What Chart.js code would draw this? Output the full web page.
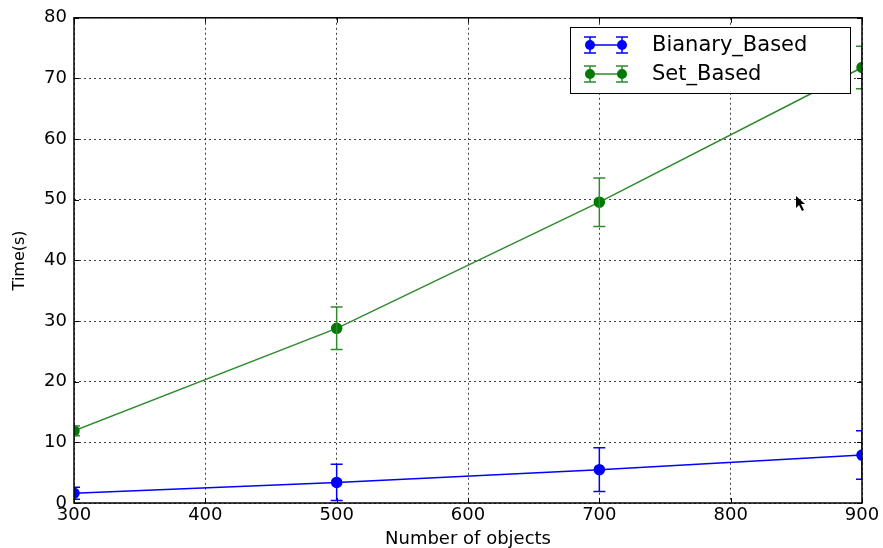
<!DOCTYPE html>
<html>
<head>
<meta charset="utf-8">
<script src="https://cdn.jsdelivr.net/npm/chart.js@4"></script>
<style>
    html, body { margin: 0; padding: 0; background: #fff; }
    #wrap { width: 883px; height: 548px; }
</style>
</head>
<body>
<div id="wrap"><canvas id="chart" width="883" height="548"></canvas></div>
<script>
// values
const objectCounts = [300, 500, 700, 900];
const binaryTimes = [1.6, 3.4, 5.5, 7.9];
const binaryErrors = [1.0, 3.0, 3.6, 4.0];
const setTimes = [11.9, 28.8, 49.6, 71.8];
const setErrors = [0.8, 3.5, 4.0, 3.5];
const xTicks = [300, 400, 500, 600, 700, 800, 900];
const yTicks = [0, 10, 20, 30, 40, 50, 60, 70, 80];

const FONT = "'DejaVu Sans', sans-serif";

function points(xs, ys) {
    return xs.map((x, i) => ({ x: x, y: ys[i] }));
}

// error bars, frame, inner ticks and legend (matplotlib look)
const mplLook = {
    id: "mplLook",
    afterDatasetsDraw(chart) {
        const ctx = chart.ctx;
        const area = chart.chartArea;
        const xs = chart.scales.x, ys = chart.scales.y;

        ctx.save();
        ctx.beginPath();
        ctx.rect(area.left, area.top, area.right - area.left, area.bottom - area.top);
        ctx.clip();
        chart.data.datasets.forEach(ds => {
            ctx.strokeStyle = ds.borderColor;
            ctx.lineWidth = 1.5;
            ds.data.forEach((p, i) => {
                const px = xs.getPixelForValue(p.x);
                const top = ys.getPixelForValue(p.y + ds.errors[i]);
                const bot = ys.getPixelForValue(p.y - ds.errors[i]);
                ctx.beginPath();
                ctx.moveTo(px, top); ctx.lineTo(px, bot);
                ctx.moveTo(px - 6, top); ctx.lineTo(px + 6, top);
                ctx.moveTo(px - 6, bot); ctx.lineTo(px + 6, bot);
                ctx.stroke();
            });
        });
        ctx.restore();

        // frame
        ctx.save();
        ctx.strokeStyle = "#000";
        ctx.lineWidth = 1.5;
        ctx.strokeRect(area.left, area.top, area.right - area.left, area.bottom - area.top);
        ctx.lineWidth = 1;
        ctx.beginPath();
        xTicks.forEach(v => {
            const px = Math.round(xs.getPixelForValue(v)) + 0.5;
            ctx.moveTo(px, area.bottom); ctx.lineTo(px, area.bottom - 5);
            ctx.moveTo(px, area.top); ctx.lineTo(px, area.top + 5);
        });
        yTicks.forEach(v => {
            const py = Math.round(ys.getPixelForValue(v)) + 0.5;
            ctx.moveTo(area.left, py); ctx.lineTo(area.left + 5, py);
            ctx.moveTo(area.right, py); ctx.lineTo(area.right - 5, py);
        });
        ctx.stroke();
        ctx.restore();

        // legend
        ctx.save();
        ctx.fillStyle = "#fff";
        ctx.fillRect(570, 27, 280, 66);
        ctx.strokeStyle = "#000";
        ctx.lineWidth = 1;
        ctx.strokeRect(570.5, 27.5, 280, 66);
        ctx.font = "21px " + FONT;
        ctx.textBaseline = "middle";
        chart.data.datasets.forEach((ds, i) => {
            const y = 45 + i * 29;
            ctx.strokeStyle = ds.borderColor;
            ctx.lineWidth = 1.5;
            ctx.beginPath();
            ctx.moveTo(590, y); ctx.lineTo(622, y);
            [590, 622].forEach(mx => {
                ctx.moveTo(mx, y - 8); ctx.lineTo(mx, y + 8);
                ctx.moveTo(mx - 6, y - 8); ctx.lineTo(mx + 6, y - 8);
                ctx.moveTo(mx - 6, y + 8); ctx.lineTo(mx + 6, y + 8);
            });
            ctx.stroke();
            ctx.fillStyle = ds.pointBackgroundColor;
            [590, 622].forEach(mx => {
                ctx.beginPath();
                ctx.arc(mx, y, 5, 0, Math.PI * 2);
                ctx.fill();
            });
            ctx.fillStyle = "#000";
            ctx.fillText(ds.label, 652, y + 1);
        });
        ctx.restore();

        // mouse pointer left in the screenshot
        ctx.save();
        ctx.fillStyle = "#000";
        ctx.beginPath();
        ctx.moveTo(796, 196);
        ctx.lineTo(796, 208);
        ctx.lineTo(799, 205);
        ctx.lineTo(802, 211);
        ctx.lineTo(804, 210);
        ctx.lineTo(801, 204);
        ctx.lineTo(805, 204);
        ctx.closePath();
        ctx.fill();
        ctx.restore();
    }
};

new Chart(document.getElementById("chart").getContext("2d"), {
    type: "line",
    data: {
        datasets: [{
            label: "Bianary_Based",
            data: points(objectCounts, binaryTimes),
            errors: binaryErrors,
            borderColor: "#0000ff",
            backgroundColor: "#0000ff",
            pointBackgroundColor: "#0000ff",
            pointBorderColor: "#0000ff",
            pointRadius: 5,
            borderWidth: 1.5,
            tension: 0,
            clip: 0
        }, {
            label: "Set_Based",
            data: points(objectCounts, setTimes),
            errors: setErrors,
            borderColor: "#2e8b2e",
            backgroundColor: "#007a00",
            pointBackgroundColor: "#007a00",
            pointBorderColor: "#007a00",
            pointRadius: 5,
            borderWidth: 1.5,
            tension: 0,
            clip: 0
        }]
    },
    options: {
        responsive: false,
        animation: false,
        layout: { padding: { top: 17, right: 21, left: 0, bottom: 0 } },
        plugins: {
            legend: { display: false },
            tooltip: { enabled: false }
        },
        scales: {
            x: {
                type: "linear",
                min: 300,
                max: 900,
                afterFit(scale) { scale.height = 45; },
                afterBuildTicks(scale) { scale.ticks = xTicks.map(v => ({ value: v })); },
                ticks: { color: "#000", font: { family: FONT, size: 18 }, padding: 2, maxRotation: 0 },
                grid: { color: "rgba(0,0,0,0.75)", lineWidth: 1, drawTicks: false },
                border: { display: false, dash: [2, 3] },
                title: { display: true, text: "Number of objects", color: "#000", font: { family: FONT, size: 18 }, padding: { top: 0, bottom: -2 } }
            },
            y: {
                type: "linear",
                min: 0,
                max: 80,
                afterFit(scale) { scale.width = 74; },
                afterBuildTicks(scale) { scale.ticks = yTicks.map(v => ({ value: v })); },
                ticks: { color: "#000", font: { family: FONT, size: 18 }, padding: 7 },
                grid: { color: "rgba(0,0,0,0.75)", lineWidth: 1, drawTicks: false },
                border: { display: false, dash: [2, 3] },
                title: { display: true, text: "Time(s)", color: "#000", font: { family: FONT, size: 16 }, padding: { top: 10, bottom: 0 } }
            }
        }
    },
    plugins: [mplLook]
});
</script>
</body>
</html>
